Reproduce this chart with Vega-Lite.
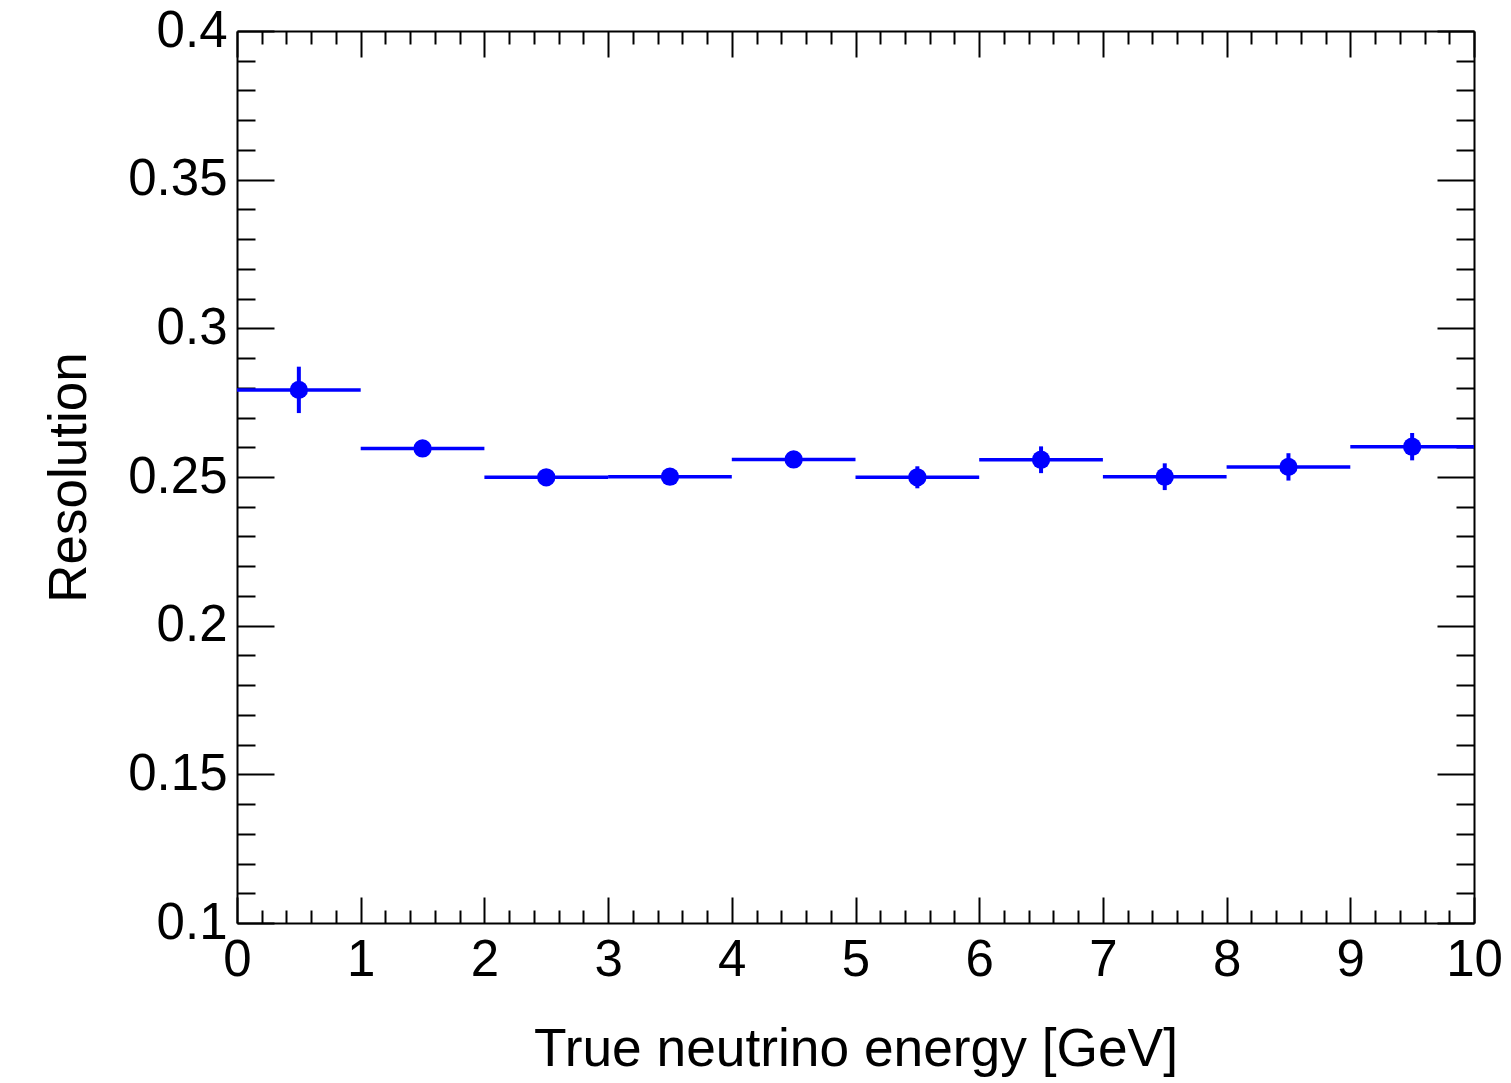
{
  "$schema": "https://vega.github.io/schema/vega-lite/v6.json",
  "width": 1237,
  "height": 892,
  "autosize": {"type": "none"},
  "padding": {"left": 237, "top": 31, "right": 37, "bottom": 160},
  "background": "white",
  "config": {
    "view": {"stroke": null},
    "axis": {"grid": false, "labelFont": "Liberation Sans", "titleFont": "Liberation Sans", "labelColor": "black", "titleColor": "black", "tickColor": "black", "domainColor": "black", "tickWidth": 2, "domainWidth": 2, "titleFontWeight": "normal"}
  },
  "data": {"values": [
    {"x": 0.5, "xlo": 0, "xhi": 1, "y": 0.2793, "ylo": 0.2715, "yhi": 0.2871},
    {"x": 1.5, "xlo": 1, "xhi": 2, "y": 0.2596, "ylo": 0.2578, "yhi": 0.2614},
    {"x": 2.5, "xlo": 2, "xhi": 3, "y": 0.2499, "ylo": 0.2481, "yhi": 0.2517},
    {"x": 3.5, "xlo": 3, "xhi": 4, "y": 0.2501, "ylo": 0.2483, "yhi": 0.2519},
    {"x": 4.5, "xlo": 4, "xhi": 5, "y": 0.2559, "ylo": 0.2534, "yhi": 0.2584},
    {"x": 5.5, "xlo": 5, "xhi": 6, "y": 0.2499, "ylo": 0.2462, "yhi": 0.2536},
    {"x": 6.5, "xlo": 6, "xhi": 7, "y": 0.2558, "ylo": 0.2513, "yhi": 0.2603},
    {"x": 7.5, "xlo": 7, "xhi": 8, "y": 0.2501, "ylo": 0.2456, "yhi": 0.2546},
    {"x": 8.5, "xlo": 8, "xhi": 9, "y": 0.2534, "ylo": 0.2488, "yhi": 0.2580},
    {"x": 9.5, "xlo": 9, "xhi": 10, "y": 0.2602, "ylo": 0.2556, "yhi": 0.2648}
  ]},
  "resolve": {"axis": {"x": "independent", "y": "independent"}},
  "layer": [
    {
      "mark": {"type": "rule", "color": "#0000ff", "strokeWidth": 3.5},
      "encoding": {
        "x": {"field": "xlo", "type": "quantitative", "scale": {"domain": [0, 10], "nice": false, "zero": false},
          "axis": {"orient": "bottom", "values": [0,1,2,3,4,5,6,7,8,9,10], "tickSize": -26, "labelPadding": 38, "labelFontSize": 51, "labelFlush": false, "labelOverlap": false, "domain": true, "title": "True neutrino energy [GeV]", "titleFontSize": 53.3, "titleBaseline": "alphabetic", "titleY": 142, "titleX": 618.5, "titleAnchor": "middle", "format": "d"}},
        "x2": {"field": "xhi"},
        "y": {"field": "y", "type": "quantitative", "scale": {"domain": [0.1, 0.4], "nice": false, "zero": false},
          "axis": {"orient": "left", "values": [0.1, 0.15, 0.2, 0.25, 0.3, 0.35, 0.4], "tickSize": -37, "labelPadding": 47, "labelFontSize": 51, "labelFlush": false, "labelOverlap": false, "labelBaseline": "middle", "format": "~g", "domain": true, "title": "Resolution", "titleFontSize": 53, "titleBaseline": "alphabetic", "titleX": -152, "titleY": 446, "titleAngle": -90, "titleAnchor": "middle"}}
      }
    },
    {
      "mark": {"type": "rule", "color": "#0000ff", "strokeWidth": 4},
      "encoding": {
        "x": {"field": "x", "type": "quantitative",
          "axis": {"orient": "bottom", "values": [0.2,0.4,0.6,0.8,1.2,1.4,1.6,1.8,2.2,2.4,2.6,2.8,3.2,3.4,3.6,3.8,4.2,4.4,4.6,4.8,5.2,5.4,5.6,5.8,6.2,6.4,6.6,6.8,7.2,7.4,7.6,7.8,8.2,8.4,8.6,8.8,9.2,9.4,9.6,9.8], "tickSize": -13, "labels": false, "domain": false, "title": null}},
        "y": {"field": "ylo", "type": "quantitative",
          "axis": {"orient": "left", "values": [0.11,0.12,0.13,0.14,0.16,0.17,0.18,0.19,0.21,0.22,0.23,0.24,0.26,0.27,0.28,0.29,0.31,0.32,0.33,0.34,0.36,0.37,0.38,0.39], "tickSize": -18, "labels": false, "domain": false, "title": null}},
        "y2": {"field": "yhi"}
      }
    },
    {
      "mark": {"type": "point", "filled": true, "color": "#0000ff", "size": 335, "opacity": 1},
      "encoding": {
        "x": {"field": "x", "type": "quantitative",
          "axis": {"orient": "top", "values": [0,1,2,3,4,5,6,7,8,9,10], "tickSize": -26, "labels": false, "domain": true, "title": null}},
        "y": {"field": "y", "type": "quantitative",
          "axis": {"orient": "right", "values": [0.1, 0.15, 0.2, 0.25, 0.3, 0.35, 0.4], "tickSize": -37, "labels": false, "domain": true, "title": null}}
      }
    },
    {
      "mark": {"type": "point", "filled": true, "color": "#0000ff", "size": 335, "opacity": 0},
      "encoding": {
        "x": {"field": "x", "type": "quantitative",
          "axis": {"orient": "top", "values": [0.2,0.4,0.6,0.8,1.2,1.4,1.6,1.8,2.2,2.4,2.6,2.8,3.2,3.4,3.6,3.8,4.2,4.4,4.6,4.8,5.2,5.4,5.6,5.8,6.2,6.4,6.6,6.8,7.2,7.4,7.6,7.8,8.2,8.4,8.6,8.8,9.2,9.4,9.6,9.8], "tickSize": -13, "labels": false, "domain": false, "title": null}},
        "y": {"field": "y", "type": "quantitative",
          "axis": {"orient": "right", "values": [0.11,0.12,0.13,0.14,0.16,0.17,0.18,0.19,0.21,0.22,0.23,0.24,0.26,0.27,0.28,0.29,0.31,0.32,0.33,0.34,0.36,0.37,0.38,0.39], "tickSize": -18, "labels": false, "domain": false, "title": null}}
      }
    }
  ]
}
